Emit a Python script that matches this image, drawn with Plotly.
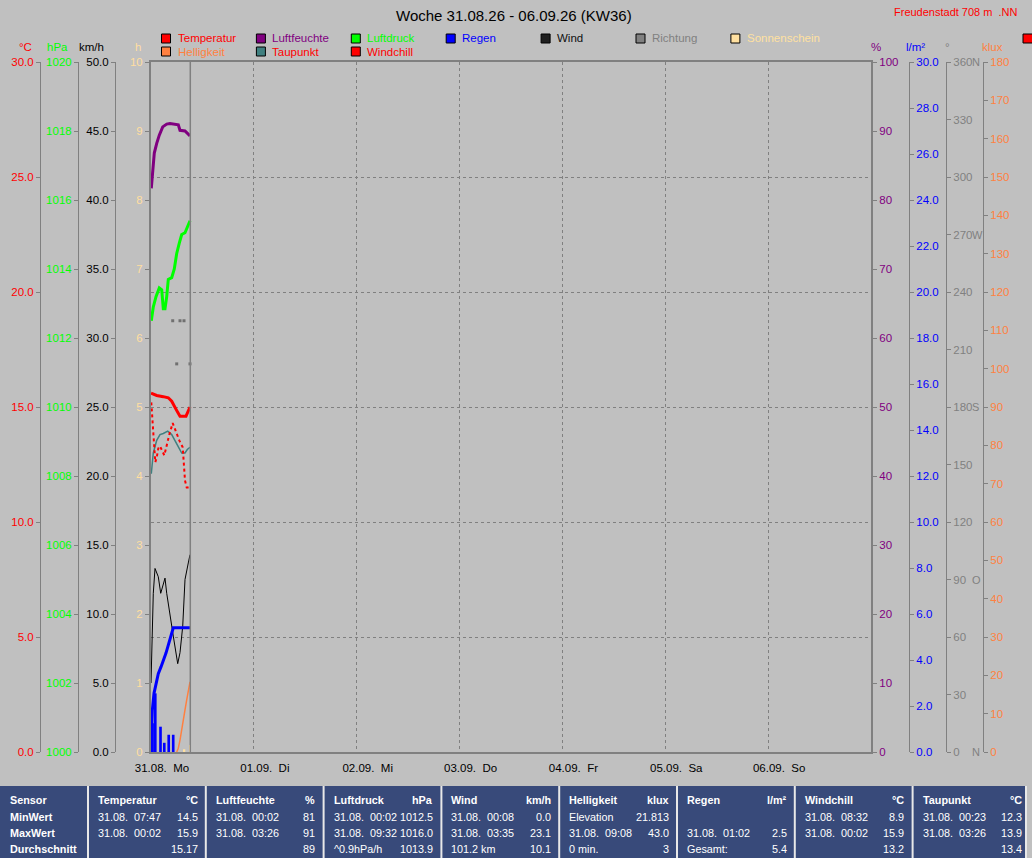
import plotly.graph_objects as go

W, H = 1032, 858
FONT = "Liberation Sans, Arial, sans-serif"
BG = "#C0C0C0"
AXC = "#808080"
TABLE_BG = "#384a7a"

# ---------------- data ----------------
DAY = "2026-08-31"
DAY_TICKS = ["2026-08-31", "2026-09-01", "2026-09-02", "2026-09-03", "2026-09-04", "2026-09-05", "2026-09-06"]
DAY_LABELS = ["31.08.\u00a0\u00a0Mo", "01.09.\u00a0\u00a0Di", "02.09.\u00a0\u00a0Mi", "03.09.\u00a0\u00a0Do",
              "04.09.\u00a0\u00a0Fr", "05.09.\u00a0\u00a0Sa", "06.09.\u00a0\u00a0So"]
X_RANGE = ["2026-08-31 00:00", "2026-09-07 00:00"]
NOW = "09:10"

TEMP_T = ["00:00", "01:20", "02:52", "04:02", "04:50", "05:36", "06:08", "06:46", "08:10", "09:06"]
TEMP_V = [15.6, 15.5, 15.45, 15.4, 15.25, 14.95, 14.8, 14.6, 14.6, 15.0]

CHILL_T = ["00:04", "00:24", "00:46", "01:00", "01:20", "01:42", "02:06", "02:38", "03:06", "03:30",
           "03:54", "04:16", "05:04", "05:50", "06:36", "07:24", "07:42", "07:56", "08:20", "09:06"]
CHILL_V = [15.2, 14.1, 13.1, 12.6, 12.8, 13.2, 13.3, 13.05, 12.9, 13.2,
           13.55, 13.8, 14.3, 13.9, 13.55, 13.25, 12.6, 11.8, 11.5, 11.5]

DEW_T = ["00:04", "00:32", "01:20", "02:06", "02:52", "03:54", "04:50", "05:36", "06:22", "07:10",
         "07:56", "08:28", "09:06"]
DEW_V = [12.1, 13.0, 13.55, 13.8, 13.85, 13.95, 13.8, 13.55, 13.25, 13.0, 13.0, 13.15, 13.25]

HUM_T = ["00:04", "00:24", "00:46", "01:20", "01:56", "02:44", "03:40", "04:26", "05:36", "06:22",
         "06:46", "07:56", "09:06"]
HUM_V = [81.7, 84.1, 86.8, 88.2, 89.4, 90.6, 91.0, 91.1, 91.0, 90.9, 90.1, 90.0, 89.3]

PRES_T = ["00:04", "00:32", "01:10", "01:56", "02:30", "02:52", "03:16", "03:40", "04:02", "04:50",
          "05:26", "06:00", "06:36", "07:10", "07:56", "08:28", "09:06"]
PRES_V = [1012.5, 1012.9, 1013.2, 1013.45, 1013.4, 1012.85, 1012.85, 1013.2, 1013.7, 1013.75,
          1014.0, 1014.45, 1014.75, 1015.0, 1015.05, 1015.2, 1015.4]

WIND_T = ["00:00", "00:32", "00:56", "01:42", "02:16", "02:52", "03:16", "03:40", "04:26", "05:12",
          "06:14", "06:46", "07:24", "07:56", "08:42", "09:06"]
WIND_V = [5.0, 11.5, 13.3, 12.7, 11.5, 12.1, 12.6, 11.5, 9.8, 8.4, 6.4, 7.2, 9.1, 12.5, 13.7, 14.3]

RAIN_SUM_T = ["00:00", "00:18", "00:42", "01:10", "01:42", "02:20", "02:52", "03:30", "04:02", "04:36",
              "05:12", "09:06"]
RAIN_SUM_V = [0.0, 1.8, 2.55, 3.0, 3.4, 3.7, 3.95, 4.3, 4.65, 5.0, 5.4, 5.4]

RAIN_BAR_T = ["00:22", "01:00", "02:13", "03:06", "04:08", "05:11"]
RAIN_BAR_V = [1.25, 2.55, 1.1, 0.4, 0.75, 0.75]

LUX_T = ["06:00", "06:22", "06:46", "07:10", "07:32", "07:56", "08:20", "08:42", "09:06"]
LUX_V = [0.0, 1.0, 3.1, 5.5, 8.3, 11.0, 13.6, 16.0, 18.3]

SUN_T = ["07:48", "09:04"]
SUN_V = [0.04, 0.1]

DIR_T = ["05:04", "06:00", "06:46", "07:42", "09:06"]
DIR_V = [225, 202.5, 225, 225, 202.5]

DIR_TICKS = [0, 90, 180, 270, 360]
DIR_NAMES = ["N", "O", "S", "W", "N"]

LEGEND_ROW1 = [("Temperatur", "#FF0000", "#FF0000"), ("Luftfeuchte", "#800080", "#800080"),
               ("Luftdruck", "#00FF00", "#00FF00"), ("Regen", "#0000FF", "#0000FF"),
               ("Wind", "#202020", "#101010"), ("Richtung", "#808080", "#808080"),
               ("Sonnenschein", "#FFE0A0", "#FFE0A0")]
LEGEND_ROW2 = [("Helligkeit", "#FF8040", "#FF8040"), ("Taupunkt", "#408080", "#FF0000"),
               ("Windchill", "#FF0000", "#FF0000")]

TABLE_ROWS = ["Sensor", "MinWert", "MaxWert", "Durchschnitt"]
TABLE_HEAD = ["Temperatur", "Luftfeuchte", "Luftdruck", "Wind", "Helligkeit", "Regen", "Windchill", "Taupunkt"]
TABLE_UNIT = ["°C", "%", "hPa", "km/h", "klux", "l/m²", "°C", "°C"]
TABLE_MIN_L = ["31.08.  07:47", "31.08.  00:02", "31.08.  00:02", "31.08.  00:08", "Elevation", "",
               "31.08.  08:32", "31.08.  00:23"]
TABLE_MIN_R = ["14.5", "81", "1012.5", "0.0", "21.813", "", "8.9", "12.3"]
TABLE_MAX_L = ["31.08.  00:02", "31.08.  03:26", "31.08.  09:32", "31.08.  03:35", "31.08.  09:08",
               "31.08.  01:02", "31.08.  00:02", "31.08.  03:26"]
TABLE_MAX_R = ["15.9", "91", "1016.0", "23.1", "43.0", "2.5", "15.9", "13.9"]
TABLE_AVG_L = ["", "", "^0.9hPa/h", "101.2 km", "0 min.", "Gesamt:", "", ""]
TABLE_AVG_R = ["15.17", "89", "1013.9", "10.1", "3", "5.4", "13.2", "13.4"]


# ---------------- helpers ----------------
def ts(times):
    return [f"{DAY} {t}" for t in times]


def px(x):
    return x / W


def py(y):
    return 1 - y / H


Y_DOM = [py(752), py(62)]
X_DOM = [px(151), px(871)]


def yaxis(rng, dtick, color, side, pos=None, fmt="", overlay=True, lw=1):
    d = dict(range=rng, tick0=rng[0], dtick=dtick, tickformat=fmt,
             tickfont=dict(family=FONT, size=11.5, color=color),
             showline=True, linecolor=AXC, linewidth=lw, ticks="outside", ticklen=4,
             tickcolor=AXC, tickwidth=1, showgrid=False, zeroline=False, domain=Y_DOM,
             side=side, automargin=False, fixedrange=True)
    if overlay:
        d["overlaying"] = "y"
    if pos is None:
        d["anchor"] = "x"
    else:
        d["anchor"] = "free"
        d["position"] = px(pos)
    return d


fig = go.Figure()

# bars first
fig.add_trace(go.Bar(x=ts(SUN_T), y=SUN_V, yaxis="y", width=0.4 * 3600000,
                     marker=dict(color="#FFE0A0", line_width=0), name="Sonnenschein"))
fig.add_trace(go.Bar(x=ts(RAIN_BAR_T), y=RAIN_BAR_V, yaxis="y6", width=0.62 * 3600000,
                     marker=dict(color="#0000FF", line_width=0), name="Regen Balken"))

# lines
fig.add_trace(go.Scatter(x=ts(DEW_T), y=DEW_V, yaxis="y2", mode="lines",
                         line=dict(color="#408080", width=1.5), name="Taupunkt"))
fig.add_trace(go.Scatter(x=ts(CHILL_T), y=CHILL_V, yaxis="y2", mode="lines",
                         line=dict(color="#FF0000", width=2, dash="3px,3px"), name="Windchill"))
fig.add_trace(go.Scatter(x=ts(TEMP_T), y=TEMP_V, yaxis="y2", mode="lines",
                         line=dict(color="#FF0000", width=3), name="Temperatur"))
fig.add_trace(go.Scatter(x=ts(PRES_T), y=PRES_V, yaxis="y3", mode="lines",
                         line=dict(color="#00FF00", width=3), name="Luftdruck"))
fig.add_trace(go.Scatter(x=ts(WIND_T), y=WIND_V, yaxis="y4", mode="lines",
                         line=dict(color="#000000", width=1), name="Wind"))
fig.add_trace(go.Scatter(x=ts(HUM_T), y=HUM_V, yaxis="y5", mode="lines",
                         line=dict(color="#800080", width=3), name="Luftfeuchte"))
fig.add_trace(go.Scatter(x=ts(RAIN_SUM_T), y=RAIN_SUM_V, yaxis="y6", mode="lines",
                         line=dict(color="#0000FF", width=3), name="Regen"))
fig.add_trace(go.Scatter(x=ts(DIR_T), y=DIR_V, yaxis="y7", mode="markers",
                         marker=dict(color="#707070", size=3, symbol="square"), name="Richtung"))
fig.add_trace(go.Scatter(x=ts(LUX_T), y=LUX_V, yaxis="y8", mode="lines",
                         line=dict(color="#FF8040", width=1.5), name="Helligkeit"))

main_y = yaxis([0, 10], 1, "#FFDEA0", "left", overlay=False, lw=2)
main_y["mirror"] = True
y2 = yaxis([0, 30], 5, "#FF0000", "left", pos=40, fmt=".1f")
y2.update(showgrid=True, gridcolor=AXC, gridwidth=1, griddash="3px,3px")

fig.update_layout(
    width=W, height=H, margin=dict(l=0, r=0, t=0, b=0, pad=0),
    paper_bgcolor=BG, plot_bgcolor=BG, showlegend=False, barmode="overlay",
    font=dict(family=FONT, size=11.5, color="#000000"),
    xaxis=dict(domain=X_DOM, type="date", range=X_RANGE, tickvals=DAY_TICKS, ticktext=DAY_LABELS,
               showgrid=True, gridcolor=AXC, gridwidth=1, griddash="3px,3px",
               showline=True, linecolor=AXC, linewidth=2, mirror=True, ticks="",
               ticklabelshift=11, ticklabelstandoff=4,
               tickfont=dict(family=FONT, size=11.5, color="#000000"),
               zeroline=False, automargin=False, fixedrange=True),
    yaxis=main_y,
    yaxis2=y2,
    yaxis3=yaxis([1000, 1020], 2, "#00FF00", "left", pos=78),
    yaxis4=yaxis([0, 50], 5, "#000000", "left", pos=115, fmt=".1f"),
    yaxis5=yaxis([0, 100], 10, "#800080", "right", lw=2),
    yaxis6=yaxis([0, 30], 2, "#0000FF", "right", pos=909, fmt=".1f"),
    yaxis7=yaxis([0, 360], 30, "#808080", "right", pos=946),
    yaxis8=yaxis([0, 180], 10, "#FF8040", "right", pos=983),
)

shapes = []
ann = []

# current time line
shapes.append(dict(type="line", xref="x", yref="paper", x0=f"{DAY} {NOW}", x1=f"{DAY} {NOW}",
                   y0=Y_DOM[0], y1=Y_DOM[1], line=dict(color=AXC, width=1.5)))

# title and station
ann.append(dict(text="Woche 31.08.26 - 06.09.26 (KW36)", x=px(514), y=py(15), xref="paper", yref="paper",
                showarrow=False, font=dict(family=FONT, size=15, color="#000000"),
                xanchor="center", yanchor="middle"))
ann.append(dict(text="Freudenstadt 708 m  .NN".replace("  ", "\u00a0\u00a0"), x=px(1020), y=py(12),
                xref="paper", yref="paper", showarrow=False,
                font=dict(family=FONT, size=11, color="#FF0000"), xanchor="right", yanchor="middle"))

# axis titles
AXIS_TITLES = [("°C", 25, "#FF0000"), ("hPa", 57.5, "#00FF00"), ("km/h", 91.5, "#000000"),
               ("h", 138, "#FFDEA0"), ("%", 875.5, "#800080"), ("l/m²", 915, "#0000FF"),
               ("°", 947, "#808080"), ("klux", 992.5, "#FF8040")]
for t, x, c in AXIS_TITLES:
    ann.append(dict(text=t, x=px(x), y=py(47), xref="paper", yref="paper", showarrow=False,
                    font=dict(family=FONT, size=11.5, color=c), xanchor="center", yanchor="middle"))

# compass labels on direction axis
for v, n in zip(DIR_TICKS, DIR_NAMES):
    ann.append(dict(text=n, x=px(969.5), y=v, xref="paper", yref="y7", showarrow=False,
                    font=dict(family=FONT, size=11, color="#808080"), xanchor="left", yanchor="middle"))

# legend
for row, items in enumerate([LEGEND_ROW1, LEGEND_ROW2]):
    yc = 38.5 + 13 * row
    for i, (name, bc, tc) in enumerate(items):
        x0 = 161.5 + 94.9 * i
        shapes.append(dict(type="rect", xref="paper", yref="paper", x0=px(x0), x1=px(x0 + 9),
                           y0=py(yc + 4.5), y1=py(yc - 4.5), fillcolor=bc,
                           line=dict(color="#000000", width=1)))
        ann.append(dict(text=name, x=px(x0 + 14), y=py(yc), xref="paper", yref="paper", showarrow=False,
                        font=dict(family=FONT, size=11.5, color=tc), xanchor="left", yanchor="middle"))
# partially visible item at right edge
shapes.append(dict(type="rect", xref="paper", yref="paper", x0=px(1023), x1=px(1034),
                   y0=py(43), y1=py(34), fillcolor="#FF0000", line=dict(color="#000000", width=1)))

# table
shapes.append(dict(type="rect", xref="paper", yref="paper", x0=0, x1=px(1026), y0=0, y1=py(786),
                   fillcolor=TABLE_BG, line_width=0))
SEPS = [88] + [88 + 117.8 * (i + 1) for i in range(7)] + [1026]
for sx in SEPS:
    shapes.append(dict(type="line", xref="paper", yref="paper", x0=px(sx), x1=px(sx), y0=0, y1=py(786),
                       line=dict(color="#E8E8E8", width=2)))

ROW_Y = [800, 816.5, 832.5, 848.5]
TF = dict(family=FONT, size=10.8, color="#FFFFFF")


def tann(text, x, y, anchor):
    if text == "":
        return
    ann.append(dict(text=text.replace("  ", "\u00a0\u00a0"), x=px(x), y=py(y), xref="paper", yref="paper",
                    showarrow=False, font=TF, xanchor=anchor, yanchor="middle"))


for r, lab in enumerate(TABLE_ROWS):
    tann(f"<b>{lab}</b>", 8, ROW_Y[r], "left")
for i in range(8):
    xl = 96 + 117.8 * i
    xr = 199.5 + 117.8 * i
    tann(f"<b>{TABLE_HEAD[i]}</b>", xl, ROW_Y[0], "left")
    tann(f"<b>{TABLE_UNIT[i]}</b>", xr, ROW_Y[0], "right")
    tann(TABLE_MIN_L[i], xl, ROW_Y[1], "left")
    tann(TABLE_MIN_R[i], xr, ROW_Y[1], "right")
    tann(TABLE_MAX_L[i], xl, ROW_Y[2], "left")
    tann(TABLE_MAX_R[i], xr, ROW_Y[2], "right")
    tann(TABLE_AVG_L[i], xl, ROW_Y[3], "left")
    tann(TABLE_AVG_R[i], xr, ROW_Y[3], "right")

fig.update_layout(shapes=shapes, annotations=ann)

fig.write_html("out.html", config={"displayModeBar": False},
               post_script="document.body.style.margin='0';document.body.style.overflow='hidden';")
